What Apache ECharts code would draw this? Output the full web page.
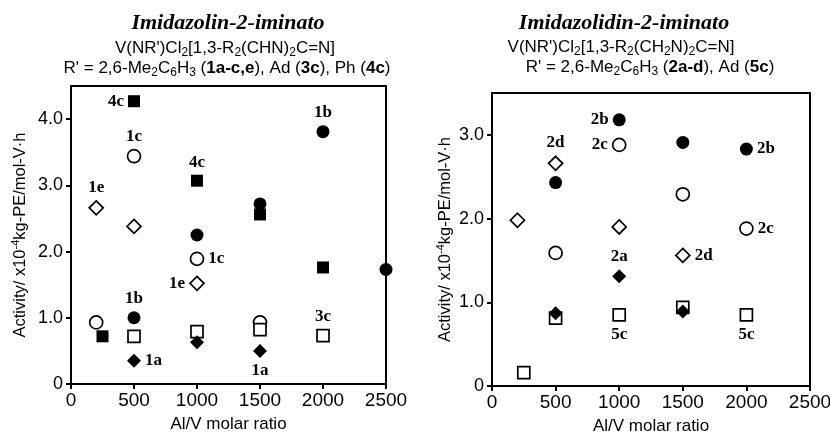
<!DOCTYPE html>
<html>
<head>
<meta charset="utf-8">
<script src="https://cdn.jsdelivr.net/npm/echarts@6/dist/echarts.min.js"></script>
<style>
    html, body { margin: 0; padding: 0; background: #fff; }
    #chart { width: 830px; height: 433px; }
</style>
</head>
<body>
<div id="chart"></div>
<script>
// Al/V molar ratio ticks (both panels)
const xTicks = [0, 500, 1000, 1500, 2000, 2500];

// left panel: imidazolin-2-iminato complexes, activity x10^-4
const left1a = [[500, 0.35], [1000, 0.63], [1500, 0.50]];
const left1b = [[500, 1.00], [1000, 2.25], [1500, 2.72], [2000, 3.81], [2500, 1.73]];
const left1c = [[200, 0.93], [500, 3.44], [1000, 1.89], [1500, 0.93]];
const left1e = [[200, 2.66], [500, 2.38], [1000, 1.52]];
const left3c = [[500, 0.72], [1000, 0.79], [1500, 0.82], [2000, 0.73]];
const left4c = [[250, 0.72], [500, 4.27], [1000, 3.07], [1500, 2.56], [2000, 1.76]];

// right panel: imidazolidin-2-iminato complexes
const right2a = [[500, 0.87], [1000, 1.31], [1500, 0.89]];
const right2b = [[500, 2.43], [1000, 3.18], [1500, 2.91], [2000, 2.83]];
const right2c = [[500, 1.59], [1000, 2.88], [1500, 2.29], [2000, 1.88]];
const right2d = [[200, 1.98], [500, 2.66], [1000, 1.90], [1500, 1.56]];
const right5c = [[250, 0.16], [500, 0.81], [1000, 0.85], [1500, 0.94], [2000, 0.85]];

// which points carry a compound tag: [series, point index, side]
const leftTags = [
    ['4c', 1, 'left'], ['4c', 2, 'top'], ['1c', 1, 'top'], ['1c', 2, 'right'],
    ['1b', 3, 'top'], ['1b', 0, 'top'], ['1e', 0, 'top'], ['1e', 2, 'left'],
    ['1a', 0, 'right'], ['1a', 2, 'bottom'], ['3c', 3, 'top']
];
const rightTags = [
    ['2b', 1, 'left'], ['2b', 3, 'right'], ['2c', 1, 'left'], ['2c', 3, 'right'],
    ['2d', 1, 'top'], ['2d', 3, 'right'], ['2a', 1, 'top'], ['5c', 2, 'bottom'], ['5c', 4, 'bottom']
];

const SANS = 'Liberation Sans';
const SERIF = 'Liberation Serif';

function makeSeries(name, data, marker, filled, panel, tags) {
    return {
        type: 'scatter',
        name: name,
        xAxisIndex: panel,
        yAxisIndex: panel,
        symbol: marker,
        symbolSize: marker === 'rect' ? 12 : (marker === 'diamond' ? 14 : 13),
        clip: false,
        silent: true,
        itemStyle: {
            color: filled ? '#000' : '#fff',
            borderColor: '#000',
            borderWidth: filled ? 0 : 1.7,
            opacity: 1
        },
        label: { fontFamily: SERIF, fontWeight: 'bold', fontSize: 17, color: '#000', distance: 4 },
        data: data.map((p, i) => {
            let item = { value: p };
            let tag = tags.find(t => t[0] === name && t[1] === i);
            if (tag) {
                item.label = { show: true, position: tag[2], formatter: name };
            }
            return item;
        })
    };
}

function xAxisFor(panel) {
    return {
        type: 'value', gridIndex: panel, min: xTicks[0], max: xTicks[xTicks.length - 1], interval: xTicks[1] - xTicks[0],
        name: 'Al/V molar ratio', nameLocation: 'middle', nameGap: 32,
        nameTextStyle: { fontFamily: SANS, fontSize: 17, color: '#000' },
        axisLine: { lineStyle: { color: '#000', width: 2 } },
        axisTick: { inside: false, length: 5, lineStyle: { color: '#000', width: 2 } },
        axisLabel: { fontFamily: SANS, fontSize: 19, color: '#000', margin: 7, formatter: v => String(v) },
        splitLine: { show: false }
    };
}

function yAxisFor(panel, max, gap) {
    return {
        type: 'value', gridIndex: panel, min: 0, max: max, interval: 1,
        name: 'Activity/ x10{sup|-4}kg-PE/mol-V·h', nameLocation: 'middle', nameGap: gap,
        nameTextStyle: {
            fontFamily: SANS, fontSize: 16.5, color: '#000', lineHeight: 20,
            rich: {
                sup: { fontFamily: SANS, fontSize: 11, color: '#000', verticalAlign: 'top', lineHeight: 10 }
            }
        },
        axisLine: { lineStyle: { color: '#000', width: 2 } },
        axisTick: { inside: false, length: 5, lineStyle: { color: '#000', width: 2 } },
        axisLabel: {
            fontFamily: SANS, fontSize: 18, color: '#000', margin: 8, showMaxLabel: false,
            formatter: v => v === 0 ? '0' : v.toFixed(1)
        },
        splitLine: { show: false }
    };
}

const textRich = {
    sub: { fontFamily: SANS, fontSize: 12, fill: '#000', verticalAlign: 'bottom', lineHeight: 11 },
    b: { fontFamily: SANS, fontSize: 17, fontWeight: 'bold', fill: '#000', lineHeight: 22 }
};

function caption(text, x, y, italic) {
    return {
        type: 'text',
        x: x,
        y: y,
        style: italic ? {
            text: text, fontFamily: SERIF, fontSize: 22, fontWeight: 'bold', fontStyle: 'italic',
            fill: '#000', align: 'center', verticalAlign: 'middle'
        } : {
            text: text, fontFamily: SANS, fontSize: 17, fill: '#000', lineHeight: 22,
            align: 'center', verticalAlign: 'middle', rich: textRich
        }
    };
}

const chart = echarts.init(document.getElementById('chart'), null, { renderer: 'canvas' });

chart.setOption({
    animation: false,
    backgroundColor: '#fff',
    grid: [
        { left: 71, right: 444, top: 86, bottom: 49, outerBoundsMode: 'none', show: true, borderColor: '#000', borderWidth: 2, backgroundColor: 'transparent' },
        { left: 492, right: 20, top: 93, bottom: 47, outerBoundsMode: 'none', show: true, borderColor: '#000', borderWidth: 2, backgroundColor: 'transparent' }
    ],
    xAxis: [xAxisFor(0), xAxisFor(1)],
    yAxis: [yAxisFor(0, 4.5, 41), yAxisFor(1, 3.5, 36)],
    graphic: [
        caption('Imidazolin-2-iminato', 228, 23, true),
        caption('V(NR\')Cl{sub|2}[1,3-R{sub|2}(CHN){sub|2}C=N]', 225, 48, false),
        caption('R\' = 2,6-Me{sub|2}C{sub|6}H{sub|3} ({b|1a-c,e}), Ad ({b|3c}), Ph ({b|4c})', 227, 68, false),
        caption('Imidazolidin-2-iminato', 624, 23, true),
        caption('V(NR\')Cl{sub|2}[1,3-R{sub|2}(CH{sub|2}N){sub|2}C=N]', 621, 47, false),
        caption('R\' = 2,6-Me{sub|2}C{sub|6}H{sub|3} ({b|2a-d}), Ad ({b|5c})', 650, 67, false)
    ],
    series: [
        makeSeries('1e', left1e, 'diamond', false, 0, leftTags),
        makeSeries('1c', left1c, 'circle', false, 0, leftTags),
        makeSeries('3c', left3c, 'rect', false, 0, leftTags),
        makeSeries('1a', left1a, 'diamond', true, 0, leftTags),
        makeSeries('1b', left1b, 'circle', true, 0, leftTags),
        makeSeries('4c', left4c, 'rect', true, 0, leftTags),
        makeSeries('2d', right2d, 'diamond', false, 1, rightTags),
        makeSeries('2c', right2c, 'circle', false, 1, rightTags),
        makeSeries('5c', right5c, 'rect', false, 1, rightTags),
        makeSeries('2a', right2a, 'diamond', true, 1, rightTags),
        makeSeries('2b', right2b, 'circle', true, 1, rightTags)
    ]
});
</script>
</body>
</html>
